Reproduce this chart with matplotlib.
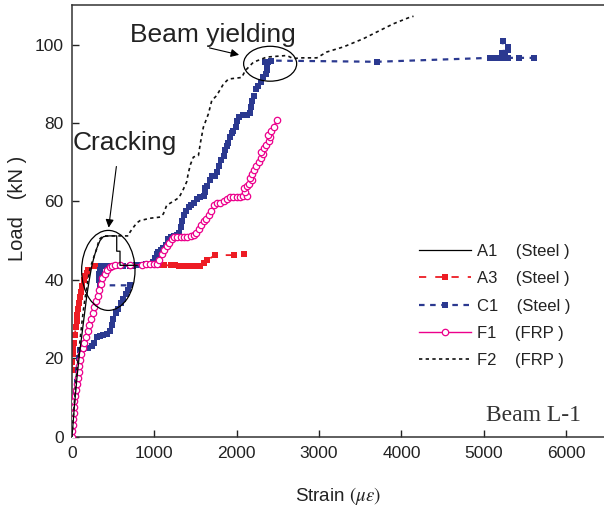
import matplotlib
matplotlib.use('Agg')
import matplotlib.pyplot as plt
from matplotlib.patches import Ellipse

plt.rcParams['font.family'] = ['Liberation Sans', 'DejaVu Sans']
plt.rcParams['mathtext.fontset'] = 'stix'

#%% data (strain in micro-strain, load in kN)
a1_strain = [0, 30, 60, 90, 120, 150, 180, 210, 240, 270, 300, 340, 380, 450, 543, 543, 583, 583, 790]
a1_load = [0, 8, 15, 21, 26, 31, 36, 40, 43.5, 46, 48, 50, 51, 51.2, 51.2, 47.3, 47.3, 43.7, 43.7]

a3_strain = [0, 5, 10, 15, 25, 35, 45, 55, 65, 75, 85, 95, 110, 125, 140, 160, 180, 198,
             280, 330, 380, 450, 550, 700, 900, 1050, 1120, 1200, 1250, 1300, 1350, 1400,
             1450, 1500, 1550, 1600, 1636, 1742, 1965, 2087]
a3_load = [17, 19, 21, 22.5, 24, 26, 28, 29.5, 31, 32.5, 34, 35.5, 37, 38.5, 40, 41, 41.8, 42.4,
           43.4, 43.5, 43.6, 43.6, 43.6, 43.6, 43.7, 43.7, 43.7, 43.7, 43.7, 43.6, 43.5, 43.5,
           43.4, 43.4, 43.5, 44.3, 45, 46.3, 46.3, 46.7]

c1_strain = [0, 15, 30, 45, 60, 75, 90, 100, 130, 160, 200, 240, 270, 300, 340, 380, 420, 460,
             480, 500, 530, 560, 590, 620, 650, 680, 700,
             340, 330, 330, 340, 350, 380, 420, 540, 580, 620, 700, 740, 780, 820, 860, 900,
             940, 980, 1010, 1030, 1050, 1080, 1110, 1140, 1170, 1200, 1240, 1270, 1300, 1320,
             1340, 1360, 1390, 1420, 1450, 1480, 1520, 1560, 1600, 1620, 1610, 1640, 1670, 1700,
             1740, 1760, 1780, 1810, 1840, 1860, 1880, 1900, 1920, 1940, 1960, 1990, 2000, 2030,
             2080, 2130, 2160, 2170, 2190, 2210, 2240, 2260, 2290, 2320, 2350, 2365, 2365, 2340,
             2380, 2420, 3700, 5080, 5150, 5200, 5220, 5260, 5290, 5290, 5228, 5250, 5300, 5423, 5605]
c1_load = [0, 4, 8, 11, 14, 17, 20, 22, 22.3, 22.5, 22.7, 23, 24, 25.5, 25.8, 26, 26.3, 27,
           28.5, 30, 31.5, 32.5, 34, 35, 36.5, 37.5, 38.6,
           38.6, 40, 41.5, 42.5, 43.5, 43.6, 43.6, 43.6, 43.6, 43.6, 43.6, 43.6, 43.7, 43.7, 43.8, 44,
           44, 44.5, 45.5, 46.5, 47.2, 47.5, 48, 49, 50.5, 51, 51.2, 51.5, 52, 53.5,
           55, 56.5, 57.5, 58.5, 59, 59.5, 60.5, 61, 61.5, 62.5, 63.5, 64, 65.5, 66.5,
           66.5, 67.5, 69, 70.5, 71.5, 73, 74, 75, 76.5, 77.5, 78, 79, 80.5, 81.5,
           82, 82, 82.5, 84, 85.5, 87, 88.7, 89.5, 90.5, 91.7, 92.5, 93.5, 95, 95.5,
           95.5, 95.9, 95.6, 96.6, 96.6, 96.6, 97.8, 97.8, 98.5, 99.3, 100.8, 96.6, 96.6, 96.6, 96.6]

f1_strain = [0, 5, 10, 15, 20, 25, 30, 40, 50, 60, 70, 80, 90, 100, 115, 130, 150, 170, 190,
             210, 230, 250, 270, 290, 310, 330, 350, 370, 400, 430, 460, 490, 520, 583, 700,
             850, 900, 950, 1000, 1030, 1060, 1090, 1120, 1150, 1180, 1210, 1240, 1280, 1320,
             1360, 1400, 1440, 1480, 1510, 1540, 1570, 1600, 1630, 1660, 1690, 1720, 1760, 1800,
             1840, 1880, 1920, 1960, 2000, 2040, 2080, 2120, 2100, 2090, 2120, 2150, 2180, 2160,
             2190, 2210, 2240, 2270, 2300, 2320, 2300, 2330, 2360, 2390, 2400, 2380, 2420, 2450, 2487]
f1_load = [0, 1.5, 3, 4.5, 6, 7.5, 9, 10.5, 12, 13.5, 15, 16.5, 18, 19.5, 21, 22.5, 24, 25.5, 27,
           28.5, 30, 31.5, 33, 34.5, 36, 37.5, 39, 40.5, 41.5, 42.5, 43.2, 43.6, 43.7, 43.7, 43.8,
           43.9, 44, 44, 44, 44, 45, 46.5, 47.5, 48.5, 49.5, 50.5, 51, 51, 51,
           51, 51, 51.2, 51.5, 52, 53, 54, 55, 55.5, 56.5, 57.5, 59, 59.5, 59.5,
           60, 60.5, 61, 61, 61.2, 61.2, 61.3, 61.5, 62.5, 63.5, 64, 64.5, 65.5, 66,
           67, 68, 69, 70, 71, 72, 72.5, 73.5, 74.5, 75.5, 76.5, 77, 78, 79, 80.8]

f2_strain = [0, 20, 40, 60, 80, 100, 120, 140, 160, 180, 198, 219, 240, 259, 280, 300, 320, 340,
             381, 450, 550, 684, 705, 750, 786, 826, 948, 1028, 1070, 1109, 1150, 1251, 1300,
             1350, 1393, 1413, 1440, 1474, 1535, 1560, 1595, 1656, 1697, 1757, 1838, 1900, 2062,
             2102, 2203, 2365, 2608, 2689, 2770, 2973, 3094, 3297, 3540, 3702, 3904, 4107, 4147]
f2_load = [0, 6, 12, 17, 21, 25, 29, 32.5, 35.5, 38, 40.3, 42.9, 44.2, 45.4, 46.7, 47.9, 49.5, 50.5,
           51.2, 51.2, 51.2, 51.2, 52.2, 53.5, 54.5, 55.1, 55.7, 55.9, 56, 56.8, 59, 60.3, 61,
           63, 65, 67.3, 69.5, 71.3, 71.7, 75, 78.9, 82.3, 85.7, 87, 89.9, 91.2, 91.6,
           93.3, 95.5, 96.8, 97.2, 96.4, 96.6, 96.6, 98.1, 99.4, 101.5, 103.2, 105.3, 107, 107.2]

x_ticks = [0, 1000, 2000, 3000, 4000, 5000, 6000]
y_ticks = [0, 20, 40, 60, 80, 100]

#%% colours
blue = '#2b3990'
red = '#ed1c24'
magenta = '#ec008c'
ink = '#222222'

fig = plt.figure(figsize=(6.04, 5.11), dpi=100)
ax = fig.add_axes([72 / 604, 74.3 / 511, 532 / 604, 431.4 / 511])

ax.plot(a3_strain, a3_load, color=red, lw=1.3, dashes=(4, 5), marker='s', ms=4.5, mew=0,
        label='A3    (Steel )', zorder=2)
ax.plot(c1_strain, c1_load, color=blue, lw=1.6, dashes=(2.5, 2.5), marker='s', ms=5, mew=0,
        label='C1    (Steel )', zorder=3)
ax.plot(f1_strain, f1_load, color=magenta, lw=1.0, marker='o', ms=4.6, mfc='white', mew=0.9,
        label='F1    (FRP )', zorder=4)
ax.plot(a1_strain, a1_load, color='black', lw=0.9, label='A1    (Steel )', zorder=5)
ax.plot(f2_strain, f2_load, color='#111111', lw=1.2, dashes=(2, 2), label='F2    (FRP )', zorder=5)

ax.set_xlim(0, 6460)
ax.set_ylim(0, 110)
ax.set_xticks(x_ticks)
ax.set_yticks(y_ticks)
ax.tick_params(direction='in', length=5, width=1, colors=ink, labelsize=12.5, pad=7)
ax.tick_params(axis='y', pad=6)
for side in ['left', 'bottom', 'top']:
    ax.spines[side].set_color('#333333')
    ax.spines[side].set_linewidth(1.1)
ax.spines['right'].set_visible(False)

ax.set_xlabel(r'Strain $(\mu\varepsilon)$', fontsize=13.5, color=ink)
ax.xaxis.set_label_coords(0.5, -0.112)
ax.set_ylabel('Load   (kN )', fontsize=14.5, color=ink)
ax.yaxis.set_label_coords(-0.085, 0.53)

# annotations
ax.add_patch(Ellipse((441, 42.4), 648, 20.4, fill=False, ec='black', lw=0.9, zorder=6))
ax.add_patch(Ellipse((2406, 95.1), 644, 8.9, fill=False, ec='black', lw=0.9, zorder=6))
ax.text(12, 75, 'Cracking', fontsize=19, color=ink, ha='left', va='center')
ax.text(705, 102.5, 'Beam yielding', fontsize=19, color=ink, ha='left', va='center')
ax.annotate('', xy=(441, 52.6), xytext=(543, 69.6),
            arrowprops=dict(arrowstyle='-|>', color='black', lw=0.8, mutation_scale=12))
ax.annotate('', xy=(2062, 97.2), xytext=(1636, 99.3),
            arrowprops=dict(arrowstyle='-|>', color='black', lw=0.8, mutation_scale=12))
ax.text(5600, 5.5, 'Beam L-1', fontsize=17, color='#333333', family='Liberation Serif',
        ha='center', va='center')

# legend in the order of the reference
handles, labels = ax.get_legend_handles_labels()
order = [3, 0, 1, 2, 4]
leg = ax.legend([handles[i] for i in order], [labels[i] for i in order],
                loc='upper left', bbox_to_anchor=(419 / 604, 1 - 244 / 511),
                bbox_transform=fig.transFigure, frameon=False, fontsize=12,
                handlelength=3.1, handletextpad=0.4, labelspacing=0.74,
                borderpad=0, borderaxespad=0)
for t in leg.get_texts():
    t.set_color(ink)

fig.savefig('out.png', dpi=100)
